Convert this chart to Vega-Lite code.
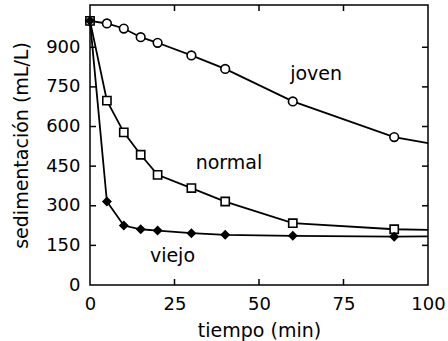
{
  "$schema": "https://vega.github.io/schema/vega-lite/v6.json",
  "width": 338,
  "height": 280,
  "autosize": "none",
  "padding": {"left": 90, "top": 5, "right": 20, "bottom": 56},
  "background": "white",
  "config": {
    "font": "DejaVu Sans",
    "view": {"stroke": "black", "strokeWidth": 1.5},
    "axis": {
      "domain": false, "ticks": false,
      "labelColor": "black", "labelFontSize": 18, "labelFont": "DejaVu Sans",
      "titleColor": "black", "titleFontSize": 19, "titleFont": "DejaVu Sans", "titleFontWeight": "normal",
      "grid": false
    }
  },
  "datasets": {
    "curvas": [
      {"tiempo": 0, "sed": 1000, "serie": "joven"},
      {"tiempo": 5, "sed": 990, "serie": "joven"},
      {"tiempo": 10, "sed": 971, "serie": "joven"},
      {"tiempo": 15, "sed": 938, "serie": "joven"},
      {"tiempo": 20, "sed": 917, "serie": "joven"},
      {"tiempo": 30, "sed": 869, "serie": "joven"},
      {"tiempo": 40, "sed": 818, "serie": "joven"},
      {"tiempo": 60, "sed": 695, "serie": "joven"},
      {"tiempo": 90, "sed": 560, "serie": "joven"},
      {"tiempo": 100, "sed": 537, "serie": "joven"},
      {"tiempo": 0, "sed": 1000, "serie": "normal"},
      {"tiempo": 5, "sed": 698, "serie": "normal"},
      {"tiempo": 10, "sed": 578, "serie": "normal"},
      {"tiempo": 15, "sed": 493, "serie": "normal"},
      {"tiempo": 20, "sed": 417, "serie": "normal"},
      {"tiempo": 30, "sed": 367, "serie": "normal"},
      {"tiempo": 40, "sed": 316, "serie": "normal"},
      {"tiempo": 60, "sed": 234, "serie": "normal"},
      {"tiempo": 90, "sed": 211, "serie": "normal"},
      {"tiempo": 100, "sed": 209, "serie": "normal"},
      {"tiempo": 0, "sed": 1000, "serie": "viejo"},
      {"tiempo": 5, "sed": 316, "serie": "viejo"},
      {"tiempo": 10, "sed": 225, "serie": "viejo"},
      {"tiempo": 15, "sed": 211, "serie": "viejo"},
      {"tiempo": 20, "sed": 206, "serie": "viejo"},
      {"tiempo": 30, "sed": 196, "serie": "viejo"},
      {"tiempo": 40, "sed": 190, "serie": "viejo"},
      {"tiempo": 60, "sed": 186, "serie": "viejo"},
      {"tiempo": 90, "sed": 183, "serie": "viejo"},
      {"tiempo": 100, "sed": 184, "serie": "viejo"}
    ],
    "etiquetas": [
      {"tiempo": 66.9, "sed": 800, "texto": "joven"},
      {"tiempo": 41.1, "sed": 463, "texto": "normal"},
      {"tiempo": 24.4, "sed": 110, "texto": "viejo"}
    ],
    "marcasX": [
      {"tiempo": 25, "sed": 0}, {"tiempo": 50, "sed": 0}, {"tiempo": 75, "sed": 0},
      {"tiempo": 25, "sed": 1060}, {"tiempo": 50, "sed": 1060}, {"tiempo": 75, "sed": 1060}
    ],
    "marcasY": [
      {"tiempo": 0, "sed": 150}, {"tiempo": 0, "sed": 300}, {"tiempo": 0, "sed": 450},
      {"tiempo": 0, "sed": 600}, {"tiempo": 0, "sed": 750}, {"tiempo": 0, "sed": 900},
      {"tiempo": 100, "sed": 150}, {"tiempo": 100, "sed": 300}, {"tiempo": 100, "sed": 450},
      {"tiempo": 100, "sed": 600}, {"tiempo": 100, "sed": 750}, {"tiempo": 100, "sed": 900}
    ]
  },
  "layer": [
    {
      "data": {"name": "curvas"},
      "mark": {"type": "line", "interpolate": "linear", "color": "black", "strokeWidth": 1.8},
      "encoding": {
        "x": {"field": "tiempo", "type": "quantitative", "scale": {"domain": [0, 100], "nice": false},
              "axis": {"values": [0, 25, 50, 75, 100], "title": "tiempo (min)", "labelPadding": 10, "titlePadding": 8, "labelFlush": false}},
        "y": {"field": "sed", "type": "quantitative", "scale": {"domain": [0, 1060], "nice": false},
              "axis": {"values": [0, 150, 300, 450, 600, 750, 900], "title": "sedimentación (mL/L)", "labelPadding": 10, "titlePadding": 14}},
        "detail": {"field": "serie"}
      }
    },
    {
      "data": {"name": "marcasX"},
      "mark": {"type": "tick", "orient": "vertical", "size": 12, "thickness": 1.5, "color": "black", "opacity": 1, "clip": true},
      "encoding": {
        "x": {"field": "tiempo", "type": "quantitative"},
        "y": {"field": "sed", "type": "quantitative"}
      }
    },
    {
      "data": {"name": "marcasY"},
      "mark": {"type": "tick", "orient": "horizontal", "size": 12, "thickness": 1.5, "color": "black", "opacity": 1, "clip": true},
      "encoding": {
        "x": {"field": "tiempo", "type": "quantitative"},
        "y": {"field": "sed", "type": "quantitative"}
      }
    },
    {
      "data": {"name": "curvas"},
      "transform": [{"filter": "datum.tiempo < 100"}],
      "mark": {"type": "point", "filled": true, "stroke": "black", "strokeWidth": 1.6, "opacity": 1},
      "encoding": {
        "x": {"field": "tiempo", "type": "quantitative"},
        "y": {"field": "sed", "type": "quantitative"},
        "shape": {"field": "serie", "type": "nominal", "scale": {"domain": ["joven", "normal", "viejo"], "range": ["circle", "square", "diamond"]}, "legend": null},
        "fill": {"field": "serie", "type": "nominal", "scale": {"domain": ["joven", "normal", "viejo"], "range": ["white", "white", "black"]}, "legend": null},
        "size": {"field": "serie", "type": "nominal", "scale": {"domain": ["joven", "normal", "viejo"], "range": [75, 60, 70]}, "legend": null}
      }
    },
    {
      "data": {"name": "etiquetas"},
      "mark": {"type": "text", "fontSize": 19, "font": "DejaVu Sans", "color": "black", "baseline": "middle", "align": "center"},
      "encoding": {
        "x": {"field": "tiempo", "type": "quantitative"},
        "y": {"field": "sed", "type": "quantitative"},
        "text": {"field": "texto"}
      }
    }
  ]
}
